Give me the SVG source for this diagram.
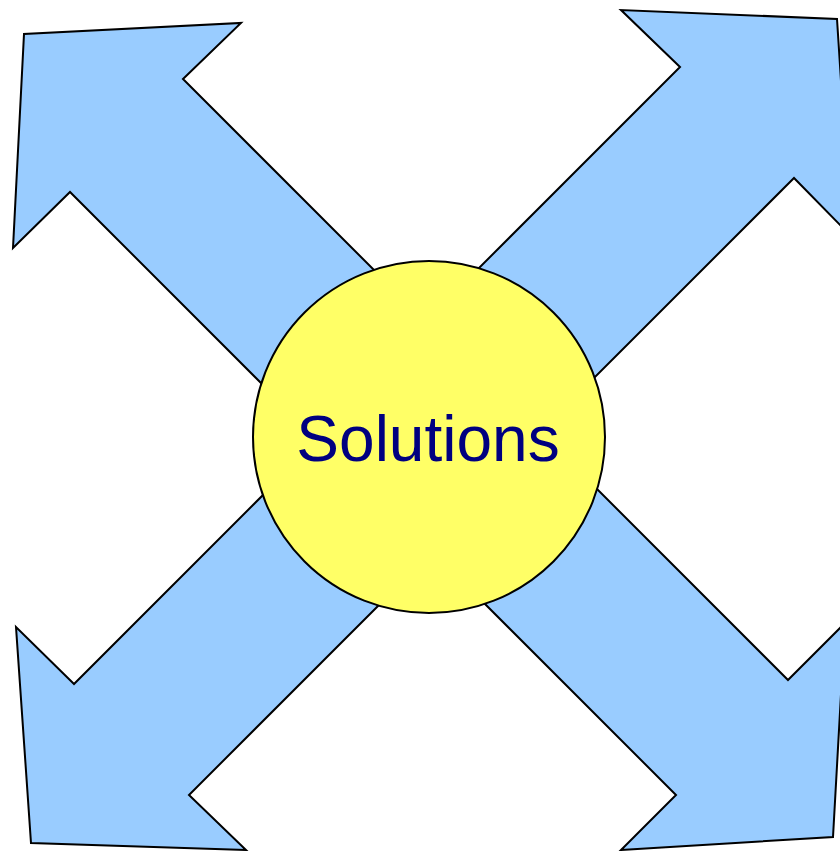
<svg xmlns="http://www.w3.org/2000/svg" width="840" height="851" viewBox="0 0 840 851">
<style>
.arrow{fill:#99ccff;stroke:#000;stroke-width:2;stroke-linejoin:miter}
.hub{fill:#ffff66;stroke:#000;stroke-width:2}
.label{font-family:"Liberation Sans",Arial,sans-serif;font-size:64px;fill:#000080;text-anchor:middle}
</style>
<rect width="840" height="851" fill="#fff"/>
<g id="connectors">
<polygon id="arrow-nw" class="arrow" points="183,79 241,23 24,34 13,248 70,192 370,492 480,376"/>
<polygon id="arrow-ne" class="arrow" points="680,67 621,10 837,19 851,236 794,178 510,462 380,367"/>
<polygon id="arrow-sw" class="arrow" points="74,684 16,627 31,843 246,850 189,795 500,484 360,398"/>
<polygon id="arrow-se" class="arrow" points="788,680 845,623 833,837 621,850 676,795 360,479 500,392"/>
</g>
<g id="solutions">
<circle class="hub" cx="429" cy="437" r="176"/>
<text class="label" x="428" y="461">Solutions</text>
</g>
</svg>
